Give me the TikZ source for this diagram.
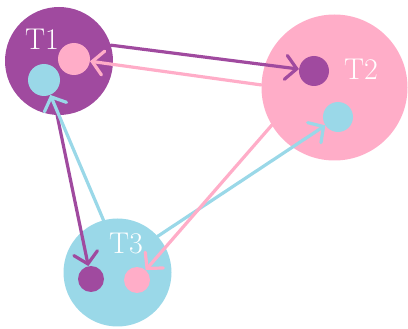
\documentclass[tikz,border=0pt]{standalone}
\usetikzlibrary{arrows.meta}
\definecolor{purp}{RGB}{160,74,159}
\definecolor{pinkc}{RGB}{255,173,200}
\definecolor{bluec}{RGB}{154,216,232}
\tikzset{
  bigc/.style={circle,inner sep=0pt,minimum size=#1},
  dotc/.style={circle,inner sep=0pt,minimum size=#1},
  lbl/.style={text=white,font=\fontsize{30}{30}\selectfont,inner sep=0pt},
  arr/.style={line width=3.2pt,line cap=round,-{Straight Barb[length=11pt,width=24pt,line cap=round]}}
}
\begin{document}
\begin{tikzpicture}[x=1pt,y=-1pt]
\useasboundingbox (0,0) rectangle (408,329);
\node[bigc=108pt,fill=purp] (T1) at (59,61) {};
\node[bigc=146pt,fill=pinkc] (T2) at (334.5,87.5) {};
\node[bigc=108pt,fill=bluec] (T3) at (117.5,272.5) {};
\node[lbl] (L1) at (42,39) {T1};
\node[lbl] (L2) at (361,69) {T2};
\node[lbl] (L3) at (126,244) {T3};
\node[dotc=32pt,fill=pinkc] (d1p) at (74,59) {};
\node[dotc=32pt,fill=bluec] (d1b) at (44,80) {};
\node[dotc=30pt,fill=purp] (d2p) at (314,71) {};
\node[dotc=30pt,fill=bluec] (d2b) at (338,117) {};
\node[dotc=26pt,fill=purp] (d3p) at (91,279) {};
\node[dotc=26pt,fill=pinkc] (d3k) at (137,280) {};
\draw[arr,purp] (T1.17) -- (d2p);
\draw[arr,pinkc] (T2.178) -- (d1p);
\draw[arr,purp] (T1.-92) -- (d3p);
\draw[arr,bluec] (T3.105) -- (d1b);
\draw[arr,bluec] (T3.42) -- (d2b);
\draw[arr,pinkc] (T2.211) -- (d3k);
\end{tikzpicture}
\end{document}
